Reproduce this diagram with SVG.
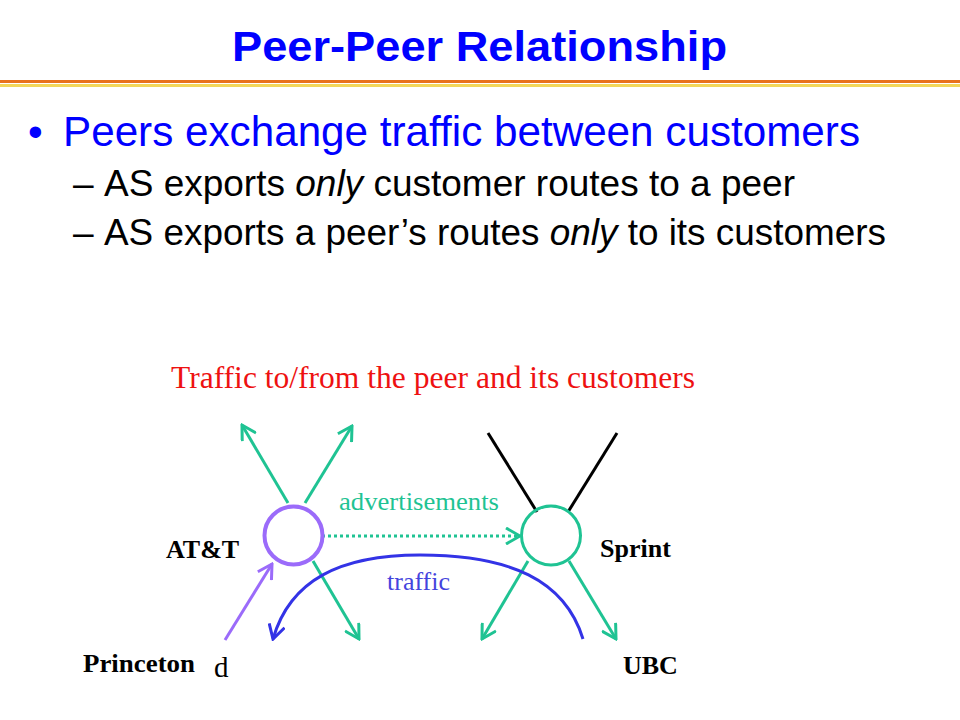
<svg xmlns="http://www.w3.org/2000/svg" width="960" height="720" viewBox="0 0 960 720">
<style>
.sans{font-family:"Liberation Sans",Arial,sans-serif}
.serif{font-family:"Liberation Serif","Times New Roman",serif}
.lbl{font-family:"Liberation Serif","Times New Roman",serif;font-weight:bold;font-size:26px;fill:#000}
.g{stroke:#1FC393;stroke-width:3;fill:none}
.k{stroke:#000;stroke-width:3;fill:none}
</style>
<defs>
<marker id="ag" viewBox="-16 -9 18 18" markerWidth="18" markerHeight="18" refX="0" refY="0" orient="auto" markerUnits="userSpaceOnUse">
<path d="M-14,-8 L0,0 L-14,8" fill="none" stroke="#1FC393" stroke-width="3"/>
</marker>
<marker id="ap" viewBox="-16 -9 18 18" markerWidth="18" markerHeight="18" refX="0" refY="0" orient="auto" markerUnits="userSpaceOnUse">
<path d="M-14,-8 L0,0 L-14,8" fill="none" stroke="#9B6BFA" stroke-width="3"/>
</marker>
<marker id="ab" viewBox="-16 -9 18 18" markerWidth="18" markerHeight="18" refX="0" refY="0" orient="auto" markerUnits="userSpaceOnUse">
<path d="M-14,-8 L0,0 L-14,8" fill="none" stroke="#3333E6" stroke-width="3"/>
</marker>
</defs>
<rect width="960" height="720" fill="#fff"/>
<g id="title">
<text class="sans" x="232" y="61" font-size="42" font-weight="bold" fill="#0000FF" textLength="495" lengthAdjust="spacingAndGlyphs">Peer-Peer Relationship</text>
<rect x="0" y="80" width="960" height="3" fill="#E8711C"/>
<rect x="0" y="84" width="960" height="3" fill="#F2D65A"/>
</g>
<g id="bullets" class="sans">
<text x="28" y="146" font-size="42" fill="#0000FF">•</text>
<text x="63" y="146" font-size="42" fill="#0000FF" textLength="797" lengthAdjust="spacingAndGlyphs">Peers exchange traffic between customers</text>
<text x="73" y="196" font-size="37" fill="#000">–</text>
<text x="104" y="196" font-size="37" fill="#000" textLength="691" lengthAdjust="spacingAndGlyphs">AS exports <tspan font-style="italic">only</tspan> customer routes to a peer</text>
<text x="73" y="245" font-size="37" fill="#000">–</text>
<text x="104" y="245" font-size="37" fill="#000" textLength="782" lengthAdjust="spacingAndGlyphs">AS exports a peer’s routes <tspan font-style="italic">only</tspan> to its customers</text>
</g>
<text id="caption" class="serif" x="171" y="388" font-size="31" fill="#EE1111" textLength="524" lengthAdjust="spacingAndGlyphs">Traffic to/from the peer and its customers</text>
<g id="connectors">
<line class="g" x1="288" y1="503" x2="242" y2="425" marker-end="url(#ag)"/>
<line class="g" x1="305" y1="503" x2="352" y2="426" marker-end="url(#ag)"/>
<line class="g" x1="313" y1="561" x2="359" y2="639" marker-end="url(#ag)"/>
<line class="g" x1="528" y1="561" x2="482" y2="639" marker-end="url(#ag)"/>
<line class="g" x1="569" y1="561" x2="616" y2="639" marker-end="url(#ag)"/>
<line class="k" x1="488" y1="433" x2="537" y2="512"/>
<line class="k" x1="617" y1="433" x2="568" y2="512"/>
<line x1="322" y1="536" x2="520" y2="536" stroke="#1FC393" stroke-width="3" stroke-dasharray="3,3" fill="none" marker-end="url(#ag)"/>
<line x1="225" y1="640" x2="272" y2="564" stroke="#9B6BFA" stroke-width="3" fill="none" marker-end="url(#ap)"/>
<path d="M583,639 C565,580 510,555 420,555 C340,555 290,580 273,639" stroke="#3333E6" stroke-width="3" fill="none" marker-end="url(#ab)"/>
</g>
<g id="labels">
<text class="serif" x="339" y="510" font-size="26" fill="#1FC393" textLength="160" lengthAdjust="spacingAndGlyphs">advertisements</text>
<text class="serif" x="387" y="590" font-size="26" fill="#4444DD">traffic</text>
</g>
<g id="att">
<circle cx="293.5" cy="535.5" r="29" fill="none" stroke="#9B6BFA" stroke-width="4"/>
<text class="lbl" x="166" y="558">AT&amp;T</text>
</g>
<g id="sprint">
<circle cx="551" cy="535.5" r="29.5" fill="none" stroke="#1FC393" stroke-width="3"/>
<text class="lbl" x="600" y="557">Sprint</text>
</g>
<g id="princeton">
<text class="lbl" x="83" y="672" textLength="112" lengthAdjust="spacingAndGlyphs">Princeton</text>
<text class="serif" x="214" y="677" font-size="29" fill="#000">d</text>
</g>
<g id="ubc">
<text class="lbl" x="623" y="674">UBC</text>
</g>
</svg>
